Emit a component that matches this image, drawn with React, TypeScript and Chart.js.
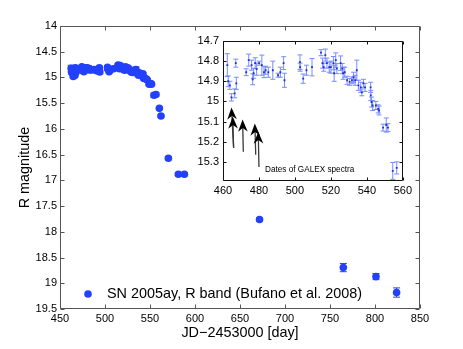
import React, { useEffect, useRef } from 'react';
import { Chart, registerables } from 'chart.js';

Chart.register(...registerables);

const FONT = '"Liberation Sans", Arial, Helvetica, sans-serif';

// Early photometry (shown in both main plot and inset)
const EARLY_DAYS = [
  462.4, 462.9, 463.8, 464.7, 466.5, 467.1, 467.4, 472.9, 474.3, 475.9,
  476.5, 477.0, 477.9, 478.7, 480.1, 481.6, 482.8, 483.7, 485.2, 487.7,
  490.6, 491.9, 493.7, 494.2, 502.8, 502.9, 504.6, 506.4, 509.5, 514.5,
  515.4, 516.0, 516.9, 517.8, 519.1, 520.0, 521.4, 521.8, 522.7, 523.3,
  525.4, 526.3, 526.8, 527.7, 529.0, 530.4, 531.7, 532.6, 533.5, 534.4,
  535.3, 536.6, 537.2, 538.1, 539.0, 542.1, 542.2, 542.6, 543.2, 545.0,
  546.3, 546.8, 549.0, 550.8, 551.7, 554.4, 556.6,
];
const EARLY_MAG = [
  14.82, 14.90, 14.92, 14.98, 14.96, 14.81, 14.91, 14.855, 14.795, 14.82,
  14.89, 14.86, 14.81, 14.84, 14.81, 14.82, 14.855, 14.845, 14.855, 14.845,
  14.87, 14.855, 14.81, 14.895, 14.805, 14.83, 14.887, 14.845, 14.83, 14.758,
  14.81, 14.83, 14.77, 14.81, 14.83, 14.83, 14.81, 14.86, 14.795, 14.837,
  14.81, 14.837, 14.86, 14.855, 14.895, 14.903, 14.895, 14.88, 14.895, 14.845,
  14.92, 14.93, 14.955, 14.91, 14.93, 14.93, 14.97, 15.003, 15.02, 15.02,
  15.037, 15.045, 15.13, 15.117, 15.13, 15.345, 15.33,
];
const EARLY_ERR = [
  0.057, 0.027, 0.02, 0.018, 0.022, 0.02, 0.03, 0.017, 0.03, 0.025,
  0.027, 0.025, 0.027, 0.03, 0.01, 0.05, 0.027, 0.02, 0.025, 0.045,
  0.01, 0.025, 0.032, 0.035, 0.036, 0.02, 0.023, 0.025, 0.043, 0.015,
  0.025, 0.02, 0.03, 0.025, 0.025, 0.03, 0.033, 0.04, 0.036, 0.025,
  0.036, 0.025, 0.03, 0.025, 0.02, 0.017, 0.017, 0.025, 0.025, 0.05,
  0.025, 0.025, 0.017, 0.02, 0.02, 0.025, 0.025, 0.025, 0.025, 0.02,
  0.02, 0.022, 0.017, 0.035, 0.02, 0.042, 0.03,
];

// Late photometry (main plot only)
const LATE_DAYS = [560.4, 562.2, 570.4, 581.5, 588.2, 671.7, 764.8, 801.1, 824.0];
const LATE_MAG = [15.6, 15.75, 16.57, 16.88, 16.88, 17.76, 18.695, 18.87, 19.18];
const LATE_ERR = [0.02, 0.02, 0.03, 0.03, 0.03, 0.03, 0.08, 0.06, 0.09];

// Dates of GALEX spectra (arrows in the inset)
const ARROW_DAYS = [464.7, 465.4, 470.9, 477.7, 479.6];
const ARROW_TAIL_DAYS = [465.9, 465.9, 471.3, 478.2, 480.0];
const ARROW_TIP = [15.03, 15.075, 15.09, 15.11, 15.15];
const ARROW_TAIL = [15.23, 15.23, 15.25, 15.265, 15.325];

const MAIN_X_TICKS = [450, 500, 550, 600, 650, 700, 750, 800, 850];
const MAIN_Y_TICKS = [14, 14.5, 15, 15.5, 16, 16.5, 17, 17.5, 18, 18.5, 19, 19.5];
const INSET_X_TICKS = [460, 480, 500, 520, 540, 560];
const INSET_Y_TICKS = [14.7, 14.8, 14.9, 15, 15.1, 15.2, 15.3];

const LEGEND_LABEL = 'SN 2005ay, R band (Bufano et al. 2008)';
const X_TITLE = 'JD\u22122453000 [day]';
const Y_TITLE = 'R magnitude';
const INSET_NOTE = 'Dates of GALEX spectra';

const BLUE = 'rgb(35,65,250)';
const INSET_MARK = 'rgb(30,45,215)';
const INSET_ERR = 'rgb(120,140,255)';

const fmt = (v: any) => String(Number(Number(v).toFixed(3)));

function errorBars(days: number[], mags: number[], errs: number[], color: string, cap: number, lw: number, clip: boolean) {
  return {
    id: 'errbars',
    beforeDatasetsDraw(chart: any) {
      const { ctx, chartArea: a, scales } = chart;
      const x = scales.x;
      const y = scales.y;
      ctx.save();
      if (clip) {
        ctx.beginPath();
        ctx.rect(a.left, a.top, a.right - a.left, a.bottom - a.top);
        ctx.clip();
      }
      ctx.strokeStyle = color;
      ctx.lineWidth = lw;
      ctx.beginPath();
      for (let i = 0; i < days.length; i++) {
        const e = errs[i];
        if (e === undefined) continue;
        const px = x.getPixelForValue(days[i]);
        const y1 = y.getPixelForValue(mags[i] - e);
        const y2 = y.getPixelForValue(mags[i] + e);
        ctx.moveTo(px, y1);
        ctx.lineTo(px, y2);
        ctx.moveTo(px - cap, y1);
        ctx.lineTo(px + cap, y1);
        ctx.moveTo(px - cap, y2);
        ctx.lineTo(px + cap, y2);
      }
      ctx.stroke();
      ctx.restore();
    },
  };
}

function frame(color: string, tickLen: number) {
  return {
    id: 'frame',
    afterDraw(chart: any) {
      const { ctx, chartArea: a, scales } = chart;
      const x = scales.x;
      const y = scales.y;
      const L = Math.round(a.left) + 0.5;
      const R = Math.round(a.right) - 0.5;
      const T = Math.round(a.top) + 0.5;
      const B = Math.round(a.bottom) - 0.5;
      ctx.save();
      ctx.strokeStyle = color;
      ctx.lineWidth = 1;
      ctx.beginPath();
      ctx.rect(L, T, R - L, B - T);
      x.ticks.forEach((t: any) => {
        const px = Math.round(x.getPixelForValue(t.value)) + 0.5;
        ctx.moveTo(px, B);
        ctx.lineTo(px, B - tickLen);
        ctx.moveTo(px, T);
        ctx.lineTo(px, T + tickLen);
      });
      y.ticks.forEach((t: any) => {
        const py = Math.round(y.getPixelForValue(t.value)) + 0.5;
        ctx.moveTo(L, py);
        ctx.lineTo(L + tickLen, py);
        ctx.moveTo(R, py);
        ctx.lineTo(R - tickLen, py);
      });
      ctx.stroke();
      ctx.restore();
    },
  };
}

const legendPlugin = {
  id: 'legendInArea',
  afterDraw(chart: any) {
    const { ctx, chartArea: a } = chart;
    const cx = a.left + 28;
    const cy = a.bottom - 15;
    ctx.save();
    ctx.fillStyle = BLUE;
    ctx.beginPath();
    ctx.arc(cx, cy, 3.8, 0, Math.PI * 2);
    ctx.fill();
    ctx.fillStyle = '#000';
    ctx.font = `14.4px ${FONT}`;
    ctx.textAlign = 'left';
    ctx.textBaseline = 'middle';
    ctx.fillText(LEGEND_LABEL, a.left + 47, cy + 0.5);
    ctx.restore();
  },
};

const insetBg = {
  id: 'insetBg',
  beforeDraw(chart: any) {
    const { ctx, chartArea: a } = chart;
    ctx.save();
    ctx.fillStyle = '#fff';
    ctx.fillRect(a.left, a.top, a.right - a.left, a.bottom - a.top);
    ctx.restore();
  },
};

const arrowsPlugin = {
  id: 'arrows',
  afterDatasetsDraw(chart: any) {
    const { ctx, scales } = chart;
    const x = scales.x;
    const y = scales.y;
    ctx.save();
    for (let i = 0; i < ARROW_DAYS.length; i++) {
      const tx = x.getPixelForValue(ARROW_DAYS[i]);
      const ty = y.getPixelForValue(ARROW_TIP[i]);
      const bx = x.getPixelForValue(ARROW_TAIL_DAYS[i]);
      const by = y.getPixelForValue(ARROW_TAIL[i]);
      const ang = Math.atan2(ty - by, tx - bx);
      const len = 12;
      const hw = 4.8;
      const ux = Math.cos(ang);
      const uy = Math.sin(ang);
      const nx = -uy;
      const ny = ux;
      ctx.strokeStyle = '#3a3a3a';
      ctx.lineWidth = 1.3;
      ctx.beginPath();
      ctx.moveTo(bx, by);
      ctx.lineTo(tx - ux * 8, ty - uy * 8);
      ctx.stroke();
      const backX = tx - ux * len;
      const backY = ty - uy * len;
      const notchX = tx - ux * len * 0.7;
      const notchY = ty - uy * len * 0.7;
      ctx.fillStyle = '#000';
      ctx.beginPath();
      ctx.moveTo(tx, ty);
      ctx.lineTo(backX + nx * hw, backY + ny * hw);
      ctx.lineTo(notchX, notchY);
      ctx.lineTo(backX - nx * hw, backY - ny * hw);
      ctx.closePath();
      ctx.fill();
    }
    ctx.fillStyle = '#000';
    ctx.font = `8.2px ${FONT}`;
    ctx.textAlign = 'left';
    ctx.textBaseline = 'middle';
    ctx.fillText(INSET_NOTE, x.getPixelForValue(483.4), y.getPixelForValue(15.34));
    ctx.restore();
  },
};

export default function App() {
  const mainRef = useRef<HTMLCanvasElement | null>(null);
  const insetRef = useRef<HTMLCanvasElement | null>(null);

  useEffect(() => {
    const allDays = [...EARLY_DAYS, ...LATE_DAYS];
    const allMag = [...EARLY_MAG, ...LATE_MAG];
    const allErr = [...EARLY_ERR, ...LATE_ERR];
    const tickFont = { family: FONT, size: 11 };

    const main = new Chart(mainRef.current as HTMLCanvasElement, {
      type: 'scatter',
      data: {
        datasets: [
          {
            label: LEGEND_LABEL,
            data: allDays.map((d, i) => ({ x: d, y: allMag[i] })),
            backgroundColor: BLUE,
            borderColor: BLUE,
            borderWidth: 0,
            pointRadius: 3.8,
            pointHoverRadius: 3.8,
          },
        ],
      },
      options: {
        animation: false,
        responsive: false,
        events: [],
        layout: { padding: { left: 0, right: 43, top: 26, bottom: 0 } },
        plugins: { legend: { display: false }, tooltip: { enabled: false } },
        scales: {
          x: {
            type: 'linear',
            min: 450,
            max: 850,
            afterBuildTicks: (s: any) => {
              s.ticks = MAIN_X_TICKS.map((v) => ({ value: v }));
            },
            afterFit: (s: any) => {
              s.height = 40;
            },
            grid: { display: false, drawTicks: false },
            border: { display: false },
            ticks: { font: tickFont, color: '#000', padding: 3, maxRotation: 0, autoSkip: false, callback: fmt },
            title: {
              display: true,
              text: X_TITLE,
              color: '#000',
              font: { family: FONT, size: 14.4 },
              padding: { top: 0, bottom: 7 },
            },
          },
          y: {
            type: 'linear',
            reverse: true,
            min: 14,
            max: 19.5,
            afterBuildTicks: (s: any) => {
              s.ticks = MAIN_Y_TICKS.map((v) => ({ value: v }));
            },
            afterFit: (s: any) => {
              s.width = 60;
            },
            grid: { display: false, drawTicks: false },
            border: { display: false },
            ticks: { font: tickFont, color: '#000', padding: 3, autoSkip: false, callback: fmt },
            title: {
              display: true,
              text: Y_TITLE,
              color: '#000',
              font: { family: FONT, size: 14.4 },
              padding: { top: 16, bottom: 0 },
            },
          },
        },
      },
      plugins: [errorBars(allDays, allMag, allErr, BLUE, 3.5, 1, false), frame('#555', 4), legendPlugin],
    } as any);

    const inset = new Chart(insetRef.current as HTMLCanvasElement, {
      type: 'scatter',
      data: {
        datasets: [
          {
            data: EARLY_DAYS.map((d, i) => ({ x: d, y: EARLY_MAG[i] })),
            backgroundColor: INSET_MARK,
            borderColor: INSET_MARK,
            borderWidth: 0,
            pointStyle: 'rect',
            pointRadius: 1.3,
            pointHoverRadius: 1.3,
          },
        ],
      },
      options: {
        animation: false,
        responsive: false,
        events: [],
        layout: { padding: { left: 0, right: 8, top: 11, bottom: 0 } },
        plugins: { legend: { display: false }, tooltip: { enabled: false } },
        scales: {
          x: {
            type: 'linear',
            min: 460,
            max: 560,
            afterBuildTicks: (s: any) => {
              s.ticks = INSET_X_TICKS.map((v) => ({ value: v }));
            },
            afterFit: (s: any) => {
              s.height = 19;
            },
            grid: { display: false, drawTicks: false },
            border: { display: false },
            ticks: { font: tickFont, color: '#000', padding: 3, maxRotation: 0, autoSkip: false, callback: fmt },
          },
          y: {
            type: 'linear',
            reverse: true,
            min: 14.7,
            max: 15.395,
            afterBuildTicks: (s: any) => {
              s.ticks = INSET_Y_TICKS.map((v) => ({ value: v }));
            },
            afterFit: (s: any) => {
              s.width = 33;
            },
            grid: { display: false, drawTicks: false },
            border: { display: false },
            ticks: { font: tickFont, color: '#000', padding: 4, autoSkip: false, callback: fmt },
          },
        },
      },
      plugins: [insetBg, errorBars(EARLY_DAYS, EARLY_MAG, EARLY_ERR, INSET_ERR, 2.5, 1, true), arrowsPlugin, frame('#111', 3)],
    } as any);

    return () => {
      main.destroy();
      inset.destroy();
    };
  }, []);

  return (
    <div style={{ position: 'absolute', left: 0, top: 0, width: 463, height: 349, background: '#fff' }}>
      <canvas ref={mainRef} width={463} height={349} style={{ position: 'absolute', left: 0, top: 0, width: 463, height: 349 }} />
      <canvas ref={insetRef} width={225} height={170} style={{ position: 'absolute', left: 190, top: 30, width: 225, height: 170 }} />
    </div>
  );
}
